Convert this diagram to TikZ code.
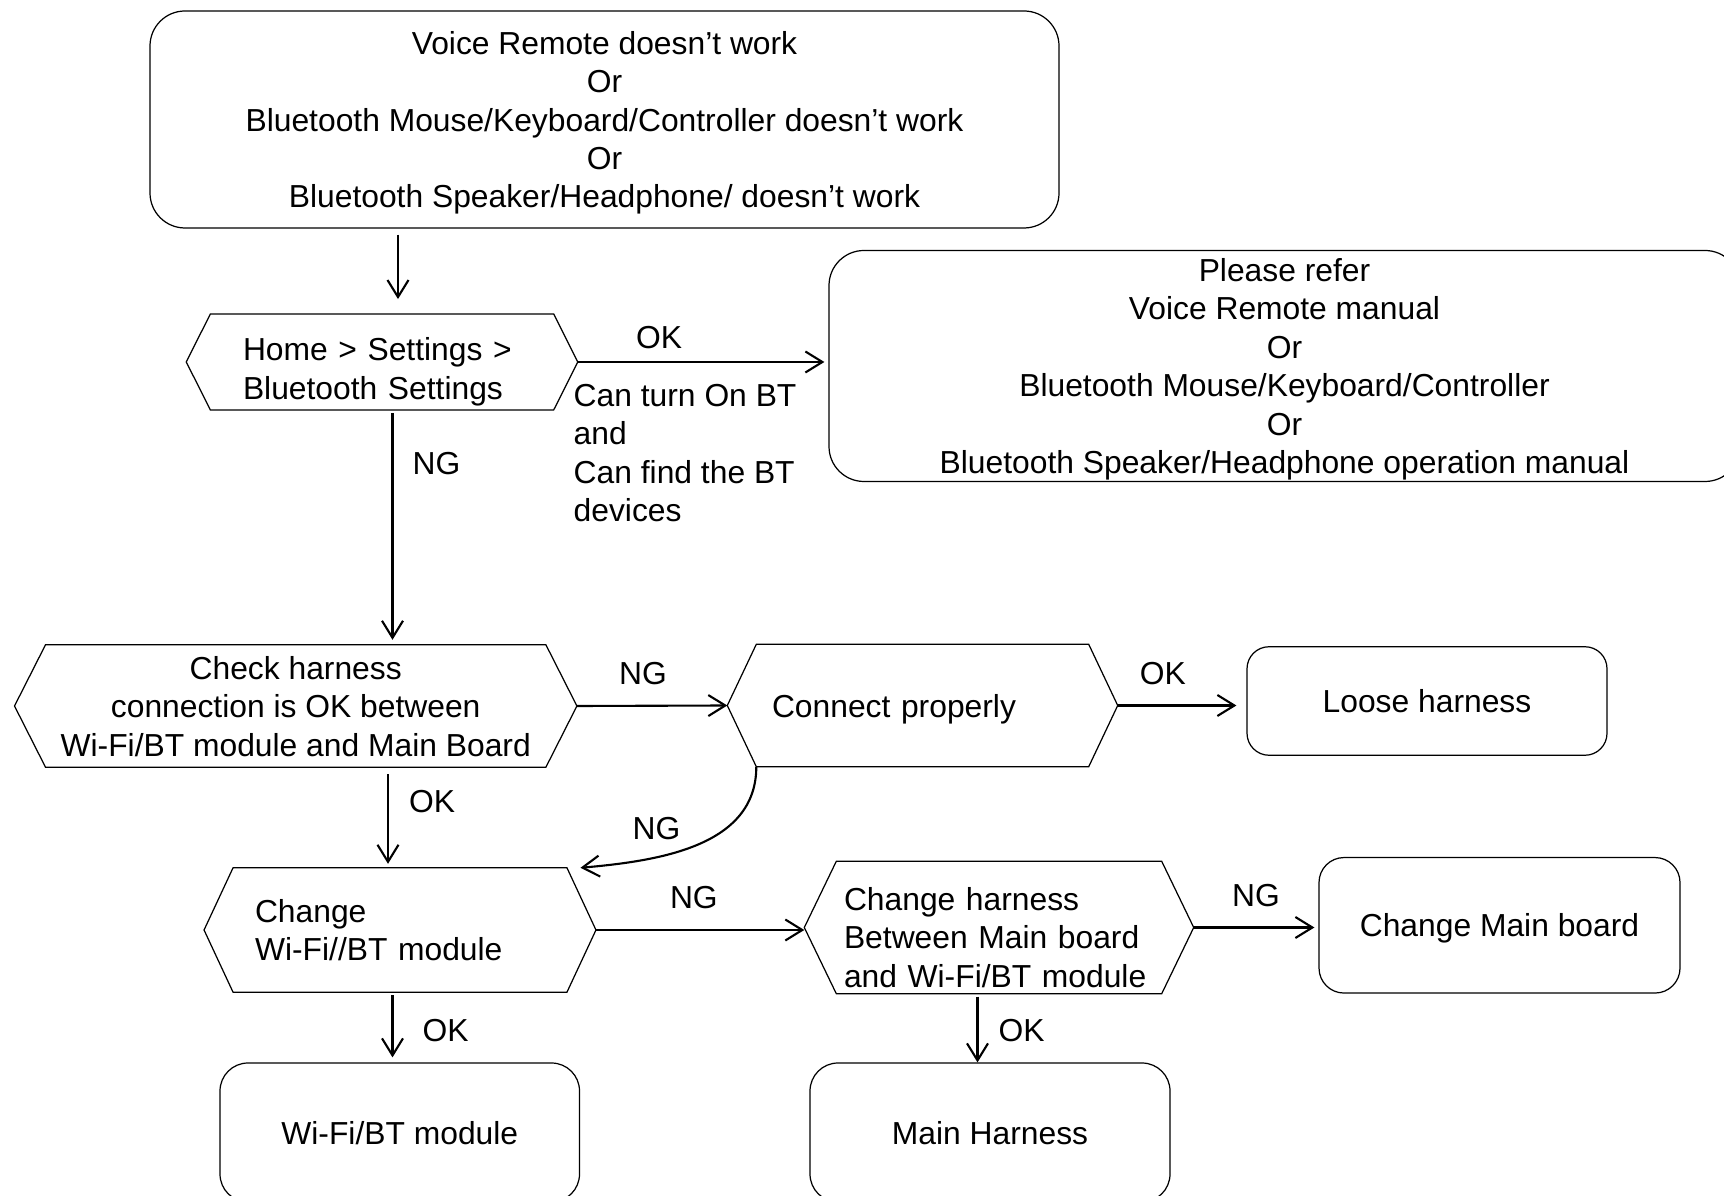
\documentclass[tikz,border=0pt]{standalone}
\usepackage{fontspec}
\setmainfont{Liberation Sans}
\usetikzlibrary{arrows.meta,positioning,calc}
\newcommand{\flowfont}{\fontsize{9.05}{10.95}\selectfont}
\tikzset{
  box/.style={draw=black,line width=0.35pt,rounded corners=2.5mm,align=center,
              inner sep=0pt,text depth=0pt,font=\flowfont},
  bigbox/.style={box,rounded corners=3.5mm},
  hexa/.style={inner sep=0pt,font=\flowfont},
  hexline/.style={draw=black,line width=0.35pt,line join=miter},
  arr/.style={-{Straight Barb[length=1.7mm,width=2.1mm]},line width=0.6pt},
  lbl/.style={font=\flowfont,inner sep=0pt},
}
\begin{document}
\begin{tikzpicture}
  \useasboundingbox (0,0) rectangle (17.24,-11.96);
  % steps
  \node[bigbox,minimum width=9.09cm,minimum height=2.17cm] (start) at (6.045,-1.195)
    {Voice Remote doesn’t work\\Or\\Bluetooth Mouse/Keyboard/Controller doesn’t work\\Or\\Bluetooth Speaker/Headphone/ doesn’t work};
  \node[hexa,minimum width=3.90cm,minimum height=0.945cm,text width=2.78cm,align=left,text height=12pt] (home) at (3.82,-3.62)
    {Home > Settings >\\Bluetooth Settings};
  \node[bigbox,minimum width=9.11cm,minimum height=2.31cm] (refer) at (12.845,-3.66)
    {Please refer\\Voice Remote manual\\Or\\Bluetooth Mouse/Keyboard/Controller\\Or\\Bluetooth Speaker/Headphone operation manual};
  \node[lbl,anchor=north west,align=left] (cond) at (5.73,-3.835)
    {Can turn On BT\\and\\Can find the BT\\devices};
  \node[hexa,minimum width=5.61cm,minimum height=1.21cm,align=center,text depth=-2.2pt] (check) at (2.957,-7.06)
    {Check harness\\connection is OK between\\Wi-Fi/BT module and Main Board};
  \node[hexa,minimum width=3.89cm,minimum height=1.21cm,text width=3.01cm,align=left,text height=8.6pt] (connect) at (9.225,-7.055)
    {Connect properly};
  \node[box,rounded corners=2.2mm,minimum width=3.6cm,minimum height=1.085cm] (loose) at (14.27,-7.01)
    {Loose harness};
  \node[hexa,minimum width=3.905cm,minimum height=1.23cm,text width=2.9cm,align=left] (wifi) at (4.0,-9.30)
    {Change\\Wi-Fi//BT module};
  \node[hexa,minimum width=3.88cm,minimum height=1.31cm,text width=3.1cm,align=left,text height=12.2pt] (harness) at (9.99,-9.275)
    {Change harness\\Between Main board\\and Wi-Fi/BT module};
  \node[box,minimum width=3.61cm,minimum height=1.355cm] (mainb) at (14.995,-9.253)
    {Change Main board};
  \node[box,rounded corners=2.8mm,minimum width=3.595cm,minimum height=1.39cm] (module) at (3.9975,-11.325)
    {Wi-Fi/BT module};
  \node[box,rounded corners=2.8mm,minimum width=3.60cm,minimum height=1.39cm] (mainh) at (9.90,-11.325)
    {Main Harness};

  % hexagon frames
  \foreach \n/\c in {home/2.4mm,check/3.1mm,connect/2.9mm,wifi/2.9mm,harness/3.2mm}
    \draw[hexline] (\n.west) -- ([xshift=\c]\n.north west) -- ([xshift=-\c]\n.north east)
      -- (\n.east) -- ([xshift=-\c]\n.south east) -- ([xshift=\c]\n.south west) -- cycle;

  % connectors
  \draw[arr,shorten <=0.6mm,shorten >=1.5mm] ([xshift=1.6mm]home.north |- start.south) -- ([xshift=1.6mm]home.north);
  \draw[arr,shorten <=0.3mm,shorten >=0.5mm] ([xshift=1.05mm]home.south) -- ([xshift=1.05mm]home.south |- check.north)
    node[lbl,pos=0.23,right=1.9mm] (ngA) {NG};
  \draw[arr,shorten >=0.4mm] (home.east) -- (home.east -| refer.west)
    node[lbl,pos=0.325,above=1.2mm] (okA) {OK};
  \draw[arr] (check.east) -- (connect.west)
    node[lbl,pos=0.44,above=2mm] (ngB) {NG};
  \draw[arr,shorten >=1mm] (connect.east) -- (connect.east -| loose.west)
    node[lbl,pos=0.35,above=2mm] (okB) {OK};
  \draw[arr,shorten <=0.7mm,shorten >=0.4mm] ([xshift=-1.2mm]wifi.north |- check.south) -- ([xshift=-1.2mm]wifi.north)
    node[lbl,pos=0.34,right=2mm] (okC) {OK};
  \draw[arr] ([xshift=2.9mm]connect.south west) to[out=-90,in=5]
    node[lbl,pos=0.5,above left=0.5mm,xshift=-1.3mm] (ngC) {NG} ([xshift=-1.55mm]wifi.north east);
  \draw[arr] (wifi.east) -- (wifi.east -| harness.west)
    node[lbl,pos=0.47,above=2mm] (ngD) {NG};
  \draw[arr,shorten >=0.4mm] (harness.east) -- (harness.east -| mainb.west)
    node[lbl,pos=0.5,above=2mm] (ngE) {NG};
  \draw[arr,shorten <=0.3mm,shorten >=0.5mm] ([xshift=-0.75mm]wifi.south) -- ([xshift=-0.75mm]wifi.south |- module.north)
    node[lbl,pos=0.55,right=2.9mm] (okD) {OK};
  \draw[arr,shorten <=0.3mm] ([xshift=-2.15mm]harness.south) -- ([xshift=-2.15mm]harness.south |- mainh.north)
    node[lbl,pos=0.54,right=2mm] (okE) {OK};
\end{tikzpicture}
\end{document}
